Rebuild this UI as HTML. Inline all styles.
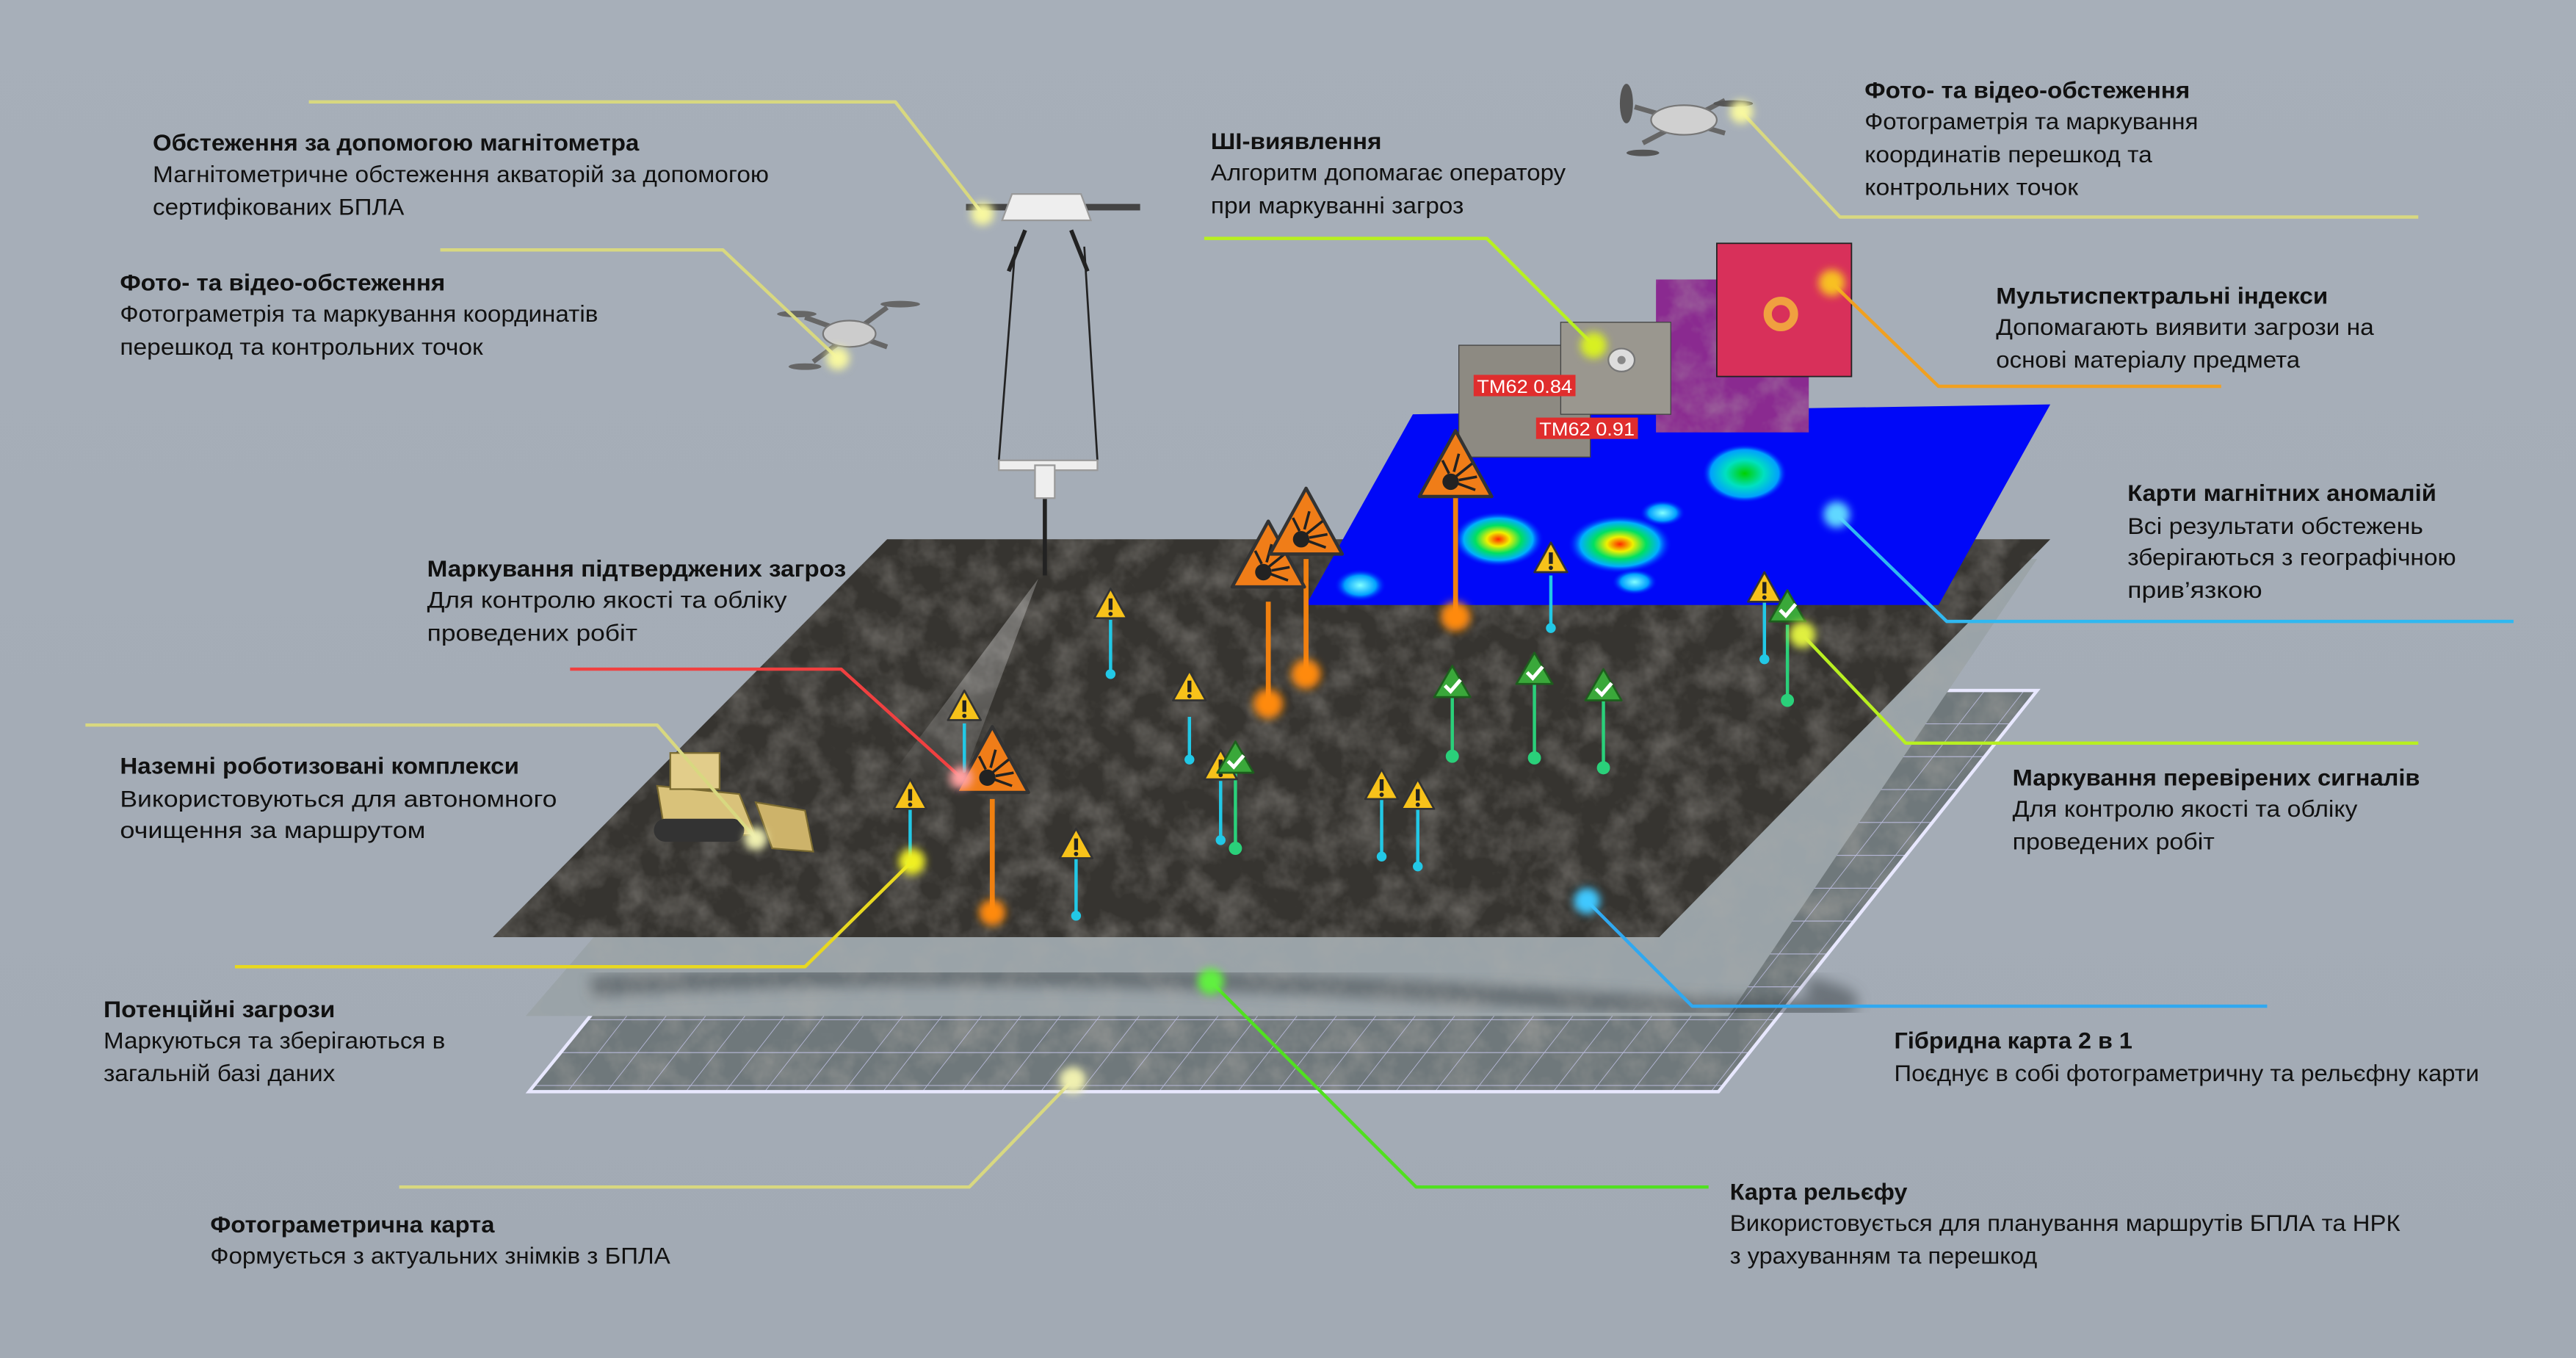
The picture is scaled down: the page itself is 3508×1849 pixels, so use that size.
<!DOCTYPE html>
<html><head><meta charset="utf-8"><style>
html,body{margin:0;padding:0;width:3508px;height:1849px;overflow:hidden;background:#a5adb7}
svg{display:block}
text{font-family:"Liberation Sans Narrow","Liberation Sans","DejaVu Sans",sans-serif;font-size:14px;fill:#111}
.b{font-weight:bold}
</style></head><body>
<svg width="3508" height="1849" viewBox="0 0 1568 826" preserveAspectRatio="none" xmlns="http://www.w3.org/2000/svg">
<defs>
<linearGradient id="bg" x1="0" y1="0" x2="0" y2="1"><stop offset="0" stop-color="#a7afb9"/><stop offset="1" stop-color="#a2aab4"/></linearGradient>
<filter id="tex" x="0" y="0" width="100%" height="100%">
<feTurbulence type="fractalNoise" baseFrequency="0.05" numOctaves="4" seed="3"/>
<feColorMatrix type="matrix" values="0 0 0 0 0.45  0 0 0 0 0.43  0 0 0 0 0.40  0 0 0 -1.6 1.0"/>
<feComposite operator="in" in2="SourceGraphic"/>
</filter>
<filter id="glow" x="-50%" y="-50%" width="200%" height="200%"><feGaussianBlur stdDeviation="2.5"/></filter>
<filter id="blur4"><feGaussianBlur stdDeviation="4"/></filter>
<radialGradient id="hot"><stop offset="0" stop-color="#ff2a00"/><stop offset=".25" stop-color="#f0f000"/><stop offset=".5" stop-color="#00e060"/><stop offset=".75" stop-color="#00b0ff"/><stop offset="1" stop-color="#0000ff" stop-opacity="0"/></radialGradient>
<radialGradient id="hot2"><stop offset="0" stop-color="#00d000"/><stop offset=".45" stop-color="#00e0c0"/><stop offset=".8" stop-color="#00a0ff"/><stop offset="1" stop-color="#0000ff" stop-opacity="0"/></radialGradient>
<radialGradient id="hot3"><stop offset="0" stop-color="#80ffff"/><stop offset=".6" stop-color="#00a0ff"/><stop offset="1" stop-color="#0000ff" stop-opacity="0"/></radialGradient>
<radialGradient id="cone" cx="0.5" cy="0" r="1"><stop offset="0" stop-color="#fff" stop-opacity=".8"/><stop offset="1" stop-color="#fff" stop-opacity="0"/></radialGradient>
<pattern id="grid" width="24" height="20" patternUnits="userSpaceOnUse" patternTransform="skewX(-38)"><path d="M0 0H24M0 0V20" stroke="#c8c8f0" stroke-width="1" fill="none"/></pattern>
<g id="warn"><path d="M0 -12 L10 6 L-10 6Z" fill="#f7c21a" stroke="#333" stroke-width="1.2" stroke-linejoin="round"/><rect x="-1.2" y="-6" width="2.4" height="7" fill="#222"/><circle cx="0" cy="3.4" r="1.3" fill="#222"/></g>
<g id="ok"><path d="M0 -13 L11 6 L-11 6Z" fill="#3aa83a" stroke="#1d5e1d" stroke-width="1.2" stroke-linejoin="round"/><path d="M-4.5 -1 L-1 2.5 L5 -4.5" stroke="#fff" stroke-width="2.2" fill="none"/></g>
<g id="bomb"><path d="M0 -28 L22 12 L-22 12Z" fill="#f07d18" stroke="#333" stroke-width="2" stroke-linejoin="round"/><circle cx="-3" cy="3" r="5" fill="#222"/><path d="M0 0 L10 -8 M2 2 L13 0 M1 4 L12 8 M-1 -3 L2 -14 M-4 -2 L-8 -10" stroke="#222" stroke-width="1.6"/></g>
</defs>
<rect width="1568" height="826" fill="url(#bg)"/>

<g>
<polygon points="322,664 1046,664 1240,420 520,420" fill="#6f787b"/>
<polygon points="322,664 1046,664 1240,420 520,420" fill="#556" filter="url(#tex)" opacity=".5"/>
<polygon points="322,664 1046,664 1240,420 520,420" fill="url(#grid)" opacity=".8"/>
<polygon points="322,664 1046,664 1240,420 520,420" fill="none" stroke="#e8e8ff" stroke-width="2"/>
</g>
<g>
<polygon points="320,618 1052,618 1240,340 560,340" fill="#9aa3a8"/>
<path d="M360 600 Q600 585 900 605 T1100 600" stroke="#3e4448" stroke-width="12" fill="none" opacity=".55" filter="url(#blur4)"/>
<polygon points="320,618 1052,618 1240,340 560,340" fill="#556" filter="url(#tex)" opacity=".3"/>
</g>
<polygon points="300,570 1010,570 1248,328 540,328" fill="#363430"/>
<polygon points="300,570 1010,570 1248,328 540,328" fill="#000" filter="url(#tex)" opacity=".45"/>
<polygon points="860,252 1248,246 1180,368 795,368" fill="#0008f8"/>
<ellipse cx="1062" cy="288" rx="26" ry="18" fill="url(#hot2)"/>
<ellipse cx="912" cy="328" rx="28" ry="17" fill="url(#hot)"/>
<ellipse cx="986" cy="331" rx="32" ry="18" fill="url(#hot)"/>
<ellipse cx="828" cy="356" rx="16" ry="10" fill="url(#hot3)"/>
<ellipse cx="995" cy="354" rx="14" ry="8" fill="url(#hot3)"/>
<ellipse cx="1012" cy="312" rx="14" ry="8" fill="url(#hot3)"/>

<rect x="1008" y="170" width="93" height="93" fill="#8a2a90"/>
<rect x="1008" y="170" width="93" height="93" fill="#e07020" filter="url(#tex)" opacity=".5"/>
<rect x="888" y="210" width="80" height="68" fill="#8d8a82" stroke="#444" stroke-width=".6"/>
<rect x="950" y="196" width="67" height="56" fill="#9a978f" stroke="#444" stroke-width=".6"/>
<ellipse cx="987" cy="219" rx="8" ry="7" fill="#ddd" stroke="#777"/><circle cx="987" cy="219" r="2.5" fill="#888"/>
<rect x="897" y="228" width="62" height="13" fill="#e02d2d"/><text x="899" y="239" style="font-size:11px;fill:#fff" textLength="58" lengthAdjust="spacingAndGlyphs">TM62 0.84</text>
<rect x="935" y="254" width="62" height="13" fill="#e02d2d"/><text x="937" y="265" style="font-size:11px;fill:#fff" textLength="58" lengthAdjust="spacingAndGlyphs">TM62 0.91</text>
<rect x="1045" y="148" width="82" height="81" fill="#d8305a" stroke="#222" stroke-width=".8"/>
<circle cx="1084" cy="191" r="8" fill="none" stroke="#f0a040" stroke-width="5"/>

<polygon points="632,352 540,475 582,485" fill="url(#cone)" opacity=".6"/>

<g stroke="#222" fill="none" stroke-width="1.2">
<path d="M618 150 L608 280 M660 150 L668 280"/>
<path d="M624 140 L614 165 M652 140 L662 165" stroke-width="2.5"/>
<path d="M636 300 L636 350" stroke-width="2.5"/>
</g>
<path d="M588 124 L694 124 L694 128 L588 128Z" fill="#444"/>
<path d="M616 118 L658 118 L664 134 L610 134Z" fill="#eee" stroke="#999"/>
<rect x="608" y="280" width="60" height="6" fill="#eee" stroke="#999"/>
<rect x="630" y="283" width="12" height="20" fill="#eee" stroke="#999"/>
<g transform="translate(520,205)"><path d="M-30 -12 L20 6 M20 -18 L-25 15" stroke="#666" stroke-width="3"/><ellipse cx="-3" cy="-2" rx="16" ry="8" fill="#ccc" stroke="#777"/><ellipse cx="-35" cy="-14" rx="12" ry="2" fill="#666"/><ellipse cx="28" cy="-20" rx="12" ry="2" fill="#666"/><ellipse cx="-30" cy="18" rx="10" ry="2" fill="#666"/></g>
<g transform="translate(1025,73)"><path d="M-30 -8 L25 8 M25 -12 L-25 14" stroke="#666" stroke-width="3"/><ellipse cx="0" cy="0" rx="20" ry="9" fill="#d0d0d0" stroke="#777"/><ellipse cx="-35" cy="-10" rx="4" ry="12" fill="#555"/><ellipse cx="30" cy="-10" rx="12" ry="2" fill="#555"/><ellipse cx="-25" cy="20" rx="10" ry="2" fill="#555"/></g>
<g transform="translate(450,488)"><path d="M-50 -10 L0 -5 L10 20 L-45 20Z" fill="#d9c27a" stroke="#7a6a30"/><rect x="-52" y="10" width="55" height="14" rx="7" fill="#333"/><path d="M10 0 L40 5 L45 30 L20 28Z" fill="#cdb36a" stroke="#7a6a30"/><rect x="-42" y="-30" width="30" height="22" fill="#e2cd8a" stroke="#7a6a30"/></g>

<g stroke-width="2">
<path d="M676 377V408M944 350V380M1074 366V400M724 436V461M587 440V470M554 492V523M655 522V555M841 486V520M863 492V526M743 475V510" stroke="#22c8e6"/>
<path d="M884 424V458M934 416V460M976 426V466M752 470V515M1088 380V424" stroke="#2ad07a"/>
<path d="M604 486V554M772 366V428M795 340V408M886 300V374" stroke="#f08010" stroke-width="3"/>
</g>
<g fill="#22c8e6"><circle cx="676" cy="410" r="3"/><circle cx="944" cy="382" r="3"/><circle cx="1074" cy="401" r="3"/><circle cx="724" cy="462" r="3"/><circle cx="554" cy="525" r="3"/><circle cx="655" cy="557" r="3"/><circle cx="841" cy="521" r="3"/><circle cx="863" cy="527" r="3"/><circle cx="743" cy="511" r="3"/></g>
<g fill="#2ad07a"><circle cx="884" cy="460" r="4"/><circle cx="934" cy="461" r="4"/><circle cx="976" cy="467" r="4"/><circle cx="752" cy="516" r="4"/><circle cx="1088" cy="426" r="4"/></g>
<g fill="#ff8a10" filter="url(#glow)"><circle cx="604" cy="555" r="8"/><circle cx="772" cy="428" r="9"/><circle cx="795" cy="410" r="9"/><circle cx="886" cy="375" r="9"/></g>
<use href="#warn" x="676" y="370"/><use href="#warn" x="944" y="342"/><use href="#warn" x="1074" y="360"/><use href="#warn" x="724" y="420"/><use href="#warn" x="587" y="432"/><use href="#warn" x="554" y="486"/><use href="#warn" x="655" y="516"/><use href="#warn" x="841" y="480"/><use href="#warn" x="863" y="486"/><use href="#warn" x="743" y="468"/>
<use href="#ok" x="884" y="418"/><use href="#ok" x="934" y="410"/><use href="#ok" x="976" y="420"/><use href="#ok" x="752" y="464"/><use href="#ok" x="1088" y="372"/>
<use href="#bomb" x="604" y="470"/><use href="#bomb" x="772" y="345"/><use href="#bomb" x="795" y="325"/><use href="#bomb" x="886" y="290"/>

<g fill="none" stroke-width="2" stroke-linejoin="round">
<path d="M188 62H545L598 130" stroke="#d8d880"/>
<path d="M268 152H440L510 218" stroke="#d8d880"/>
<path d="M733 145H905L970 210" stroke="#b8f020"/>
<path d="M1060 68L1120 132H1472" stroke="#d8d880"/>
<path d="M1115 172L1180 235H1352" stroke="#f0a020"/>
<path d="M1118 313L1185 378H1530" stroke="#30b8f0"/>
<path d="M1097 386L1160 452H1472" stroke="#b8f020"/>
<path d="M966 548L1030 612H1380" stroke="#30a8f0"/>
<path d="M737 597L862 722H1040" stroke="#50e020"/>
<path d="M653 657L590 722H243" stroke="#d8d880"/>
<path d="M555 524L490 588H143" stroke="#e8d820"/>
<path d="M52 441H400L460 510" stroke="#d8d880"/>
<path d="M347 407H512L585 473" stroke="#f04040"/>
</g>
<g filter="url(#glow)">
<circle cx="598" cy="130" r="7" fill="#f8f8a0"/><circle cx="510" cy="218" r="7" fill="#f8f8a0"/><circle cx="970" cy="210" r="8" fill="#d8f020"/><circle cx="1060" cy="68" r="7" fill="#f8f8a0"/><circle cx="1115" cy="172" r="8" fill="#f8c020"/><circle cx="1118" cy="313" r="8" fill="#60d8ff"/><circle cx="1097" cy="386" r="8" fill="#e0f040"/><circle cx="966" cy="548" r="8" fill="#40c8ff"/><circle cx="737" cy="597" r="8" fill="#60f040"/><circle cx="653" cy="657" r="8" fill="#f0f0b0"/><circle cx="555" cy="524" r="8" fill="#f0f020"/><circle cx="460" cy="510" r="7" fill="#f0f0b0"/><circle cx="585" cy="473" r="7" fill="#ffa0a0"/>
</g>

<g dominant-baseline="central">
<text class="b" x="93" y="87" textLength="296" lengthAdjust="spacingAndGlyphs">Обстеження за допомогою магнітометра</text>
<text x="93" y="106" textLength="375" lengthAdjust="spacingAndGlyphs">Магнітометричне обстеження акваторій за допомогою</text>
<text x="93" y="126" textLength="153" lengthAdjust="spacingAndGlyphs">сертифікованих БПЛА</text>

<text class="b" x="73" y="172" textLength="198" lengthAdjust="spacingAndGlyphs">Фото- та відео-обстеження</text>
<text x="73" y="191" textLength="291" lengthAdjust="spacingAndGlyphs">Фотограметрія та маркування координатів</text>
<text x="73" y="211" textLength="221" lengthAdjust="spacingAndGlyphs">перешкод та контрольних точок</text>

<text class="b" x="737" y="86" textLength="104" lengthAdjust="spacingAndGlyphs">ШІ-виявлення</text>
<text x="737" y="105" textLength="216" lengthAdjust="spacingAndGlyphs">Алгоритм допомагає оператору</text>
<text x="737" y="125" textLength="154" lengthAdjust="spacingAndGlyphs">при маркуванні загроз</text>

<text class="b" x="1135" y="55" textLength="198" lengthAdjust="spacingAndGlyphs">Фото- та відео-обстеження</text>
<text x="1135" y="74" textLength="203" lengthAdjust="spacingAndGlyphs">Фотограметрія та маркування</text>
<text x="1135" y="94" textLength="175" lengthAdjust="spacingAndGlyphs">координатів перешкод та</text>
<text x="1135" y="114" textLength="130" lengthAdjust="spacingAndGlyphs">контрольних точок</text>

<text class="b" x="1215" y="180" textLength="202" lengthAdjust="spacingAndGlyphs">Мультиспектральні індекси</text>
<text x="1215" y="199" textLength="230" lengthAdjust="spacingAndGlyphs">Допомагають виявити загрози на</text>
<text x="1215" y="219" textLength="185" lengthAdjust="spacingAndGlyphs">основі матеріалу предмета</text>

<text class="b" x="1295" y="300" textLength="188" lengthAdjust="spacingAndGlyphs">Карти магнітних аномалій</text>
<text x="1295" y="320" textLength="180" lengthAdjust="spacingAndGlyphs">Всі результати обстежень</text>
<text x="1295" y="339" textLength="200" lengthAdjust="spacingAndGlyphs">зберігаються з географічною</text>
<text x="1295" y="359" textLength="82" lengthAdjust="spacingAndGlyphs">прив’язкою</text>

<text class="b" x="260" y="346" textLength="255" lengthAdjust="spacingAndGlyphs">Маркування підтверджених загроз</text>
<text x="260" y="365" textLength="219" lengthAdjust="spacingAndGlyphs">Для контролю якості та обліку</text>
<text x="260" y="385" textLength="128" lengthAdjust="spacingAndGlyphs">проведених робіт</text>

<text class="b" x="73" y="466" textLength="243" lengthAdjust="spacingAndGlyphs">Наземні роботизовані комплекси</text>
<text x="73" y="486" textLength="266" lengthAdjust="spacingAndGlyphs">Використовуються для автономного</text>
<text x="73" y="505" textLength="186" lengthAdjust="spacingAndGlyphs">очищення за маршрутом</text>

<text class="b" x="1225" y="473" textLength="248" lengthAdjust="spacingAndGlyphs">Маркування перевірених сигналів</text>
<text x="1225" y="492" textLength="210" lengthAdjust="spacingAndGlyphs">Для контролю якості та обліку</text>
<text x="1225" y="512" textLength="123" lengthAdjust="spacingAndGlyphs">проведених робіт</text>

<text class="b" x="63" y="614" textLength="141" lengthAdjust="spacingAndGlyphs">Потенційні загрози</text>
<text x="63" y="633" textLength="208" lengthAdjust="spacingAndGlyphs">Маркуються та зберігаються в</text>
<text x="63" y="653" textLength="141" lengthAdjust="spacingAndGlyphs">загальній базі даних</text>

<text class="b" x="1153" y="633" textLength="145" lengthAdjust="spacingAndGlyphs">Гібридна карта 2 в 1</text>
<text x="1153" y="653" textLength="356" lengthAdjust="spacingAndGlyphs">Поєднує в собі фотограметричну та рельєфну карти</text>

<text class="b" x="1053" y="725" textLength="108" lengthAdjust="spacingAndGlyphs">Карта рельєфу</text>
<text x="1053" y="744" textLength="408" lengthAdjust="spacingAndGlyphs">Використовується для планування маршрутів БПЛА та НРК</text>
<text x="1053" y="764" textLength="187" lengthAdjust="spacingAndGlyphs">з урахуванням та перешкод</text>

<text class="b" x="128" y="745" textLength="173" lengthAdjust="spacingAndGlyphs">Фотограметрична карта</text>
<text x="128" y="764" textLength="280" lengthAdjust="spacingAndGlyphs">Формується з актуальних знімків з БПЛА</text>
</g>
</svg>
</body></html>
